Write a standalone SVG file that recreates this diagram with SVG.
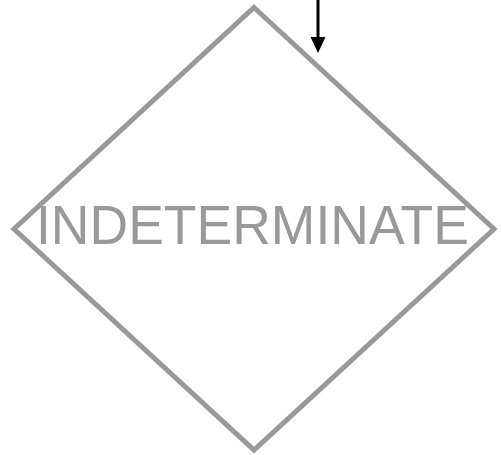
<svg xmlns="http://www.w3.org/2000/svg" width="501" height="455" viewBox="0 0 501 455">
<style>
.shape{fill:none;stroke:#999999;stroke-width:5}
.lbl{font-family:"Liberation Sans",Arial,sans-serif;font-size:55px;fill:#999999}
.edge{stroke:#000;stroke-width:3;fill:none}
</style>
<g id="node-indeterminate">
<polygon class="shape" points="254,7.5 494,229 254,450 14,229"/>
<text class="lbl" x="36" y="244" textLength="433" lengthAdjust="spacingAndGlyphs">INDETERMINATE</text>
</g>
<g id="connectors">
<line class="edge" x1="318" y1="0" x2="318" y2="38"/>
<path d="M310.5,37 L325.5,37 L318,53 Z" fill="#000"/>
</g>
</svg>
